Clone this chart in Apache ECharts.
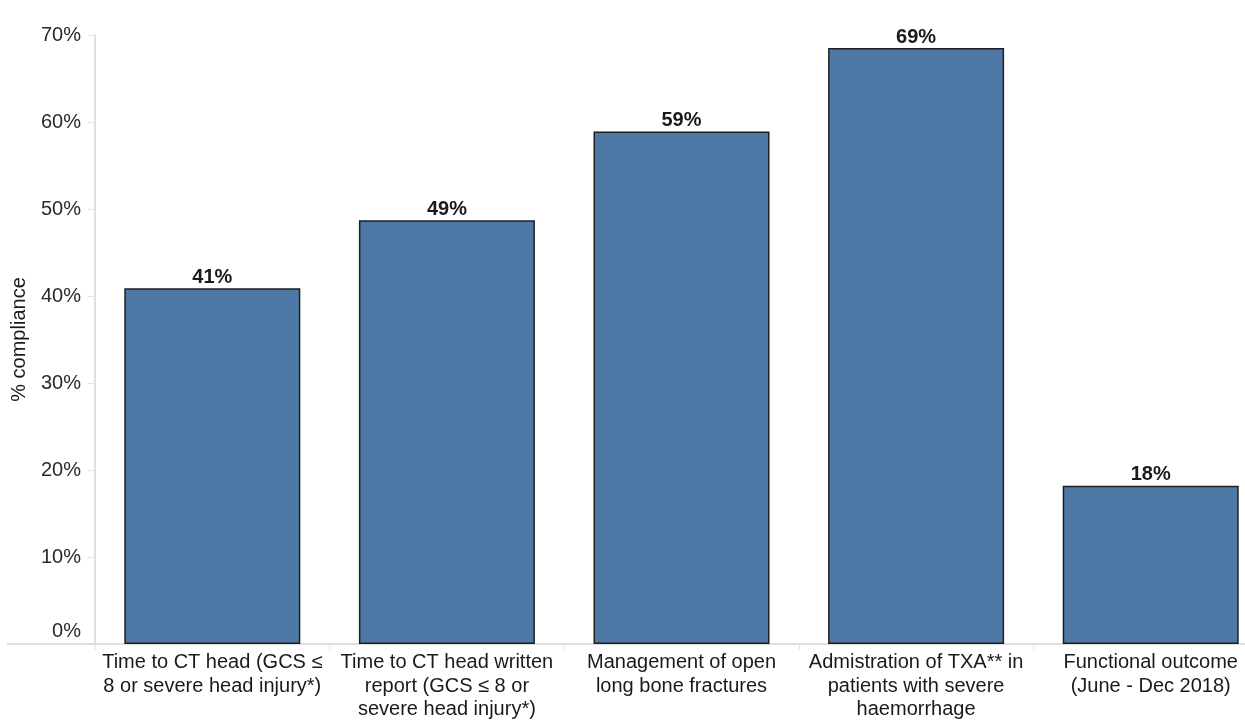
<!DOCTYPE html>
<html><head><meta charset="utf-8">
<script src="https://cdn.jsdelivr.net/npm/echarts@6/dist/echarts.min.js"></script>
<style>html,body{margin:0;padding:0;background:#fff;overflow:hidden;width:1245px;height:720px}#c{width:1268px;height:720px}</style>
</head><body><div id="c"></div>
<script>
const categories = [
  "Time to CT head (GCS ≤\n8 or severe head injury*)",
  "Time to CT head written\nreport (GCS ≤ 8 or\nsevere head injury*)",
  "Management of open\nlong bone fractures",
  "Admistration of TXA** in\npatients with severe\nhaemorrhage",
  "Functional outcome\n(June - Dec 2018)"
];
const compliance = [40.9, 48.7, 58.9, 68.5, 18.2];
const yTicks = [0, 10, 20, 30, 40, 50, 60, 70];

const chart = echarts.init(document.getElementById('c'), null, {renderer: 'canvas'});
const FONT = '"Liberation Sans", Arial, sans-serif';
chart.setOption({
  animation: false,
  backgroundColor: '#fff',
  grid: {left: 95, top: 35, right: 0, bottom: 76, containLabel: false, outerBoundsMode: 'none'},
  xAxis: {
    type: 'category',
    data: categories,
    axisLine: {show: true, lineStyle: {color: '#d4d4d4', width: 1.5}},
    axisTick: {show: true, alignWithLabel: false, length: 6, lineStyle: {color: '#e4e4e4'}},
    axisLabel: {interval: 0, margin: 7, color: '#1a1a1a', fontFamily: FONT, fontSize: 20, lineHeight: 23.5, align: 'center'},
    splitLine: {show: false}
  },
  yAxis: {
    type: 'value',
    min: yTicks[0], max: yTicks[yTicks.length - 1], interval: 10,
    name: '% compliance',
    nameLocation: 'middle',
    nameGap: 66,
    nameRotate: 90,
    nameTextStyle: {color: '#1a1a1a', fontFamily: FONT, fontSize: 20},
    axisLine: {show: true, lineStyle: {color: '#d4d4d4', width: 1.5}},
    axisTick: {show: true, length: 7, lineStyle: {color: '#e4e4e4'}},
    axisLabel: {
      margin: 14, color: '#2a2a2a', fontFamily: FONT, fontSize: 20,
      formatter: v => v === 0 ? '{z|0%}' : v + '%',
      rich: {z: {color: '#2a2a2a', fontFamily: FONT, fontSize: 20, padding: [0, 0, 26, 0]}}
    },
    splitLine: {show: false}
  },
  graphic: [{
    type: 'line', z: 10,
    shape: {x1: 7, y1: 644, x2: 95, y2: 644},
    style: {stroke: '#d4d4d4', lineWidth: 1.5}
  }],
  series: [{
    type: 'bar',
    data: compliance,
    barWidth: 176,
    itemStyle: {color: '#4e79a7', borderColor: '#1e1e1e', borderWidth: 1.5},
    label: {
      show: true, position: 'top', distance: 1,
      formatter: p => Math.round(p.value) + '%',
      color: '#1a1a1a', fontFamily: FONT, fontSize: 20, fontWeight: 'bold'
    }
  }]
});
</script></body></html>
